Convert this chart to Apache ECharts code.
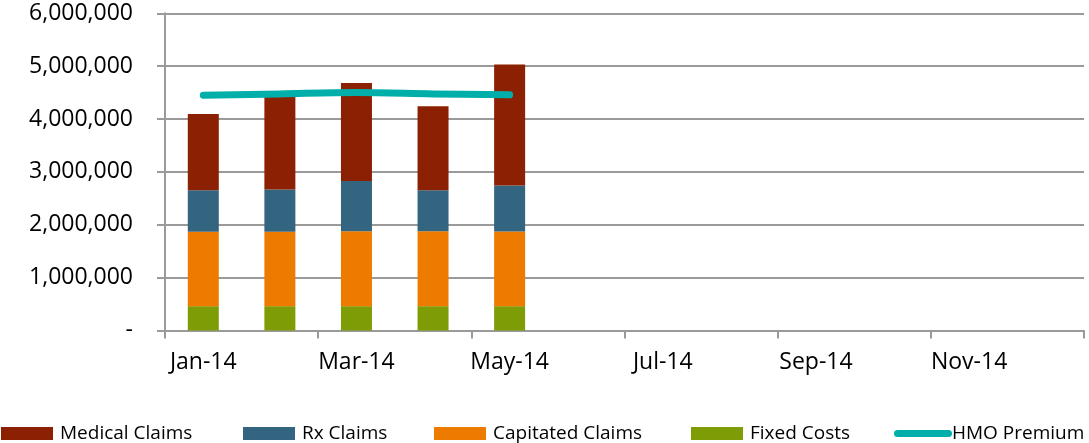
<!DOCTYPE html>
<html>
<head>
<meta charset="utf-8">
<script src="https://cdn.jsdelivr.net/npm/echarts@6/dist/echarts.min.js"></script>
<style>
html,body{margin:0;padding:0;background:#fff;}
#c{width:1089px;height:443px;}
</style>
</head>
<body>
<div id="c"></div>
<script>
var categories = ['Jan-14','Feb-14','Mar-14','Apr-14','May-14','Jun-14','Jul-14','Aug-14','Sep-14','Oct-14','Nov-14','Dec-14'];
var fixedCosts = [460000, 460000, 460000, 460000, 460000];
var capitatedClaims = [1408000, 1408000, 1419000, 1419000, 1414000];
var rxClaims = [787000, 800000, 951000, 776000, 869000];
var medicalClaims = [1439000, 1762000, 1853000, 1587000, 2287000];
var hmoPremium = [4449000, 4475000, 4500000, 4475000, 4457000];
var yTicks = [0, 1000000, 2000000, 3000000, 4000000, 5000000, 6000000];

var FONT = '"Open Sans", sans-serif';
var GRID = '#9a9a9a';
var chart = echarts.init(document.getElementById('c'));

function legendAt(name, left, icon, w, h) {
  var l = {
    data: [name], left: left, top: 424, itemWidth: w, itemHeight: h, itemGap: 0,
    textStyle: {fontFamily: FONT, fontSize: 19, color: '#000', padding: [0, 0, 0, 2]},
    padding: 0, selectedMode: false
  };
  if (icon) l.icon = icon;
  return l;
}

chart.setOption({
  animation: false,
  textStyle: {fontFamily: FONT},
  grid: {left: 165, right: 5, top: 13.3, bottom: 112.5, containLabel: false},
  legend: [
    legendAt('Medical Claims', 1, 'rect', 52, 13),
    legendAt('Rx Claims', 243, 'rect', 52, 13),
    legendAt('Capitated Claims', 434, 'rect', 52, 13),
    legendAt('Fixed Costs', 691, 'rect', 52, 13),
    (function(){ var l = legendAt('HMO Premium', 894, 'path://M3.5,0 H54.5 A3.5,3.5 0 0 1 54.5,7 H3.5 A3.5,3.5 0 0 1 3.5,0 Z', 58, 7); l.top = 424; l.itemStyle={color:'#00AEAA'}; l.textStyle.padding=[0,0,0,-5]; return l; })()
  ],
  xAxis: {
    type: 'category', data: categories, boundaryGap: true,
    axisLine: {show: true, lineStyle: {color: GRID, width: 2}},
    axisTick: {show: true, interval: 1, length: 8, lineStyle: {color: GRID, width: 2}},
    axisLabel: {interval: 1, margin: 20, fontSize: 23, color: '#000', fontFamily: FONT},
    splitLine: {show: false}
  },
  yAxis: {
    type: 'value', min: 0, max: 6000000, interval: 1000000,
    axisLine: {show: true, lineStyle: {color: GRID, width: 2}},
    axisTick: {show: true, length: 8, lineStyle: {color: GRID, width: 2}},
    axisLabel: {margin: 32, fontSize: 23, color: '#000', fontFamily: FONT,
      formatter: function(v){ return v === 0 ? '-' : v.toLocaleString('en-US'); }},
    splitLine: {show: true, lineStyle: {color: GRID, width: 2}}
  },
  series: [
    {name: 'Fixed Costs', type: 'bar', stack: 'a', data: fixedCosts, barWidth: 31, itemStyle: {color: '#7E9C05'}},
    {name: 'Capitated Claims', type: 'bar', stack: 'a', data: capitatedClaims, barWidth: 31, itemStyle: {color: '#ED7B00'}},
    {name: 'Rx Claims', type: 'bar', stack: 'a', data: rxClaims, barWidth: 31, itemStyle: {color: '#346580'}},
    {name: 'Medical Claims', type: 'bar', stack: 'a', data: medicalClaims, barWidth: 31, itemStyle: {color: '#8B2003'}},
    {name: 'HMO Premium', type: 'line', data: hmoPremium, smooth: 0.35, symbol: 'none', showSymbol: false,
      lineStyle: {color: '#00AEAA', width: 7, cap: 'round', join: 'round'}, itemStyle: {color: '#00AEAA'}}
  ]
});
</script>
</body>
</html>
